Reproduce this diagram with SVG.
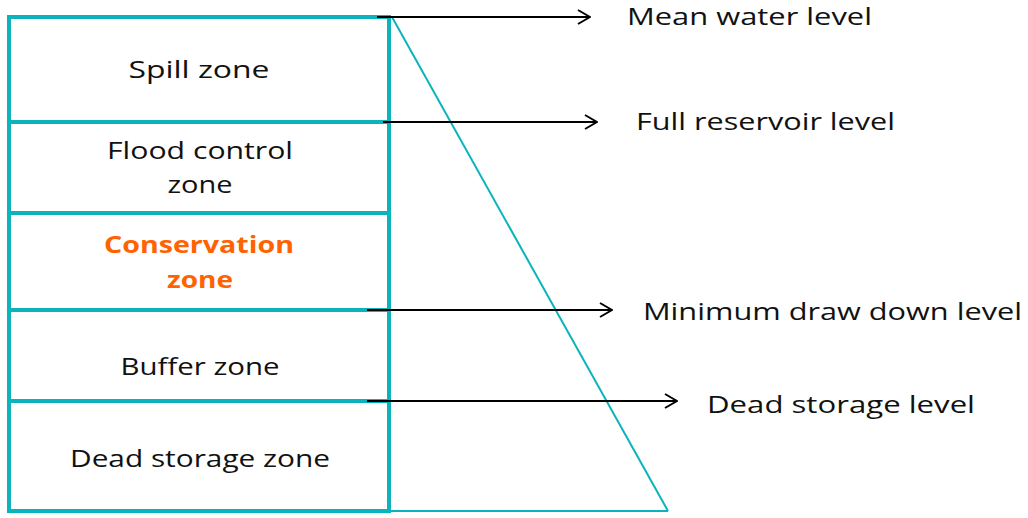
<svg xmlns="http://www.w3.org/2000/svg" width="1028" height="518" viewBox="0 0 1028 518">
<style>
.zone{fill:none;stroke:#0BB3BC;stroke-width:4}
.thin{fill:none;stroke:#0BB3BC;stroke-width:2}
.arr{stroke:#000;stroke-width:2;fill:none;marker-end:url(#chev)}
text{font-family:"Open Sans","Noto Sans",sans-serif;font-size:24px;fill:#111}
.c{text-anchor:middle}
.cons{fill:#FF6200;font-weight:bold}
</style>
<defs>
<marker id="chev" viewBox="0 0 14 16" refX="13" refY="8" markerWidth="14" markerHeight="16" markerUnits="userSpaceOnUse" orient="auto">
<path d="M1,1 L13,8 L1,15" fill="none" stroke="#000" stroke-width="2"/>
</marker>
</defs>
<g id="profile">
<line class="thin" x1="392" y1="17" x2="668" y2="511"/>
<line class="thin" x1="389" y1="511" x2="668" y2="511"/>
</g>
<g id="spill-zone">
<rect class="zone" x="9" y="17" width="380" height="105"/>
<text class="c" x="199" y="78" textLength="141" lengthAdjust="spacingAndGlyphs">Spill  zone</text>
</g>
<g id="flood-control-zone">
<rect class="zone" x="9" y="122" width="380" height="91"/>
<text class="c" x="200" y="159" textLength="186" lengthAdjust="spacingAndGlyphs">Flood control</text>
<text class="c" x="200" y="193" textLength="65" lengthAdjust="spacingAndGlyphs">zone</text>
</g>
<g id="conservation-zone">
<rect class="zone" x="9" y="213" width="380" height="97"/>
<text class="c cons" x="199" y="253" textLength="190" lengthAdjust="spacingAndGlyphs">Conservation</text>
<text class="c cons" x="200" y="288" textLength="66" lengthAdjust="spacingAndGlyphs">zone</text>
</g>
<g id="buffer-zone">
<rect class="zone" x="9" y="310" width="380" height="91"/>
<text class="c" x="200" y="375" textLength="159" lengthAdjust="spacingAndGlyphs">Buffer zone</text>
</g>
<g id="dead-storage-zone">
<rect class="zone" x="9" y="401" width="380" height="110"/>
<text class="c" x="200" y="467" textLength="260" lengthAdjust="spacingAndGlyphs">Dead storage zone</text>
</g>
<g id="connectors">
<line class="arr" x1="377" y1="17" x2="590" y2="17"/>
<line class="arr" x1="383" y1="122" x2="597" y2="122"/>
<line class="arr" x1="367" y1="310" x2="612" y2="310"/>
<line class="arr" x1="367" y1="401" x2="677" y2="401"/>
</g>
<g id="labels">
<text id="mean-water-level" x="627" y="25" textLength="245" lengthAdjust="spacingAndGlyphs">Mean water level</text>
<text id="full-reservoir-level" x="636" y="130" textLength="259" lengthAdjust="spacingAndGlyphs">Full reservoir level</text>
<text id="min-draw-down-level" x="643" y="320" textLength="379" lengthAdjust="spacingAndGlyphs">Minimum draw down level</text>
<text id="dead-storage-level" x="707" y="413" textLength="268" lengthAdjust="spacingAndGlyphs">Dead storage  level</text>
</g>
</svg>
